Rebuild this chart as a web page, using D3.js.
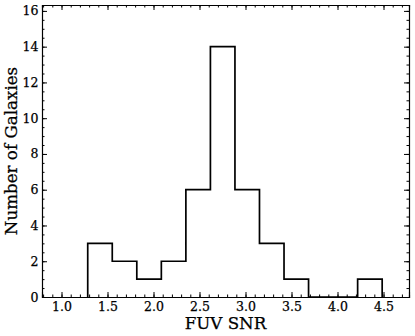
<!DOCTYPE html>
<html><head><meta charset="utf-8">
<script src="https://cdn.jsdelivr.net/npm/d3@7"></script>
<style>body{margin:0;background:#fff}svg{display:block}text{font-family:"DejaVu Serif",serif;fill:#000}</style>
</head><body>
<script>
const binStart = 1.285;
const binWidth = 0.2667;
const counts = [3, 2, 1, 2, 6, 14, 6, 3, 1, 0, 0, 1];
const xTicks = [1.0, 1.5, 2.0, 2.5, 3.0, 3.5, 4.0, 4.5];
const yTicks = [0, 2, 4, 6, 8, 10, 12, 14, 16];
const xLabel = "FUV SNR";
const yLabel = "Number of Galaxies";

const W = 415, H = 336;
const m = {l: 42, r: 6, t: 5, b: 39};
const svg = d3.select("body").append("svg").attr("width", W).attr("height", H);
const x = d3.scaleLinear().domain([0.788, 4.777]).range([m.l, W - m.r]);
const y = d3.scaleLinear().domain([0, 16.33]).range([H - m.b, m.t]);

// histogram step outline
const edges = counts.map((c, i) => binStart + i * binWidth);
const pts = [];
pts.push([binStart, 0]);
counts.forEach((c, i) => {
  pts.push([edges[i], c]);
  pts.push([edges[i] + binWidth, c]);
});
pts.push([binStart + counts.length * binWidth, 0]);
svg.append("path")
  .attr("d", d3.line().x(d => x(d[0])).y(d => y(d[1]))(pts))
  .attr("fill", "none").attr("stroke", "#000").attr("stroke-width", 1.7)
  .attr("stroke-linejoin", "miter");

// axes with inward ticks
const fmt = d3.format(".1f");
const xMinor = d3.range(8, 48).map(v => v / 10);
const yMinor = d3.range(0, 33).map(v => v / 2);
const gx = svg.append("g").attr("transform", `translate(0,${H - m.b})`);
gx.call(d3.axisBottom(x).tickValues(xMinor).tickSize(-2.5).tickFormat(""));
gx.append("g").call(d3.axisBottom(x).tickValues(xTicks).tickSize(-5).tickPadding(5).tickFormat(fmt));
const gt = svg.append("g").attr("transform", `translate(0,${m.t})`);
gt.call(d3.axisTop(x).tickValues(xMinor).tickSize(-2.5).tickFormat(""));
gt.append("g").call(d3.axisTop(x).tickValues(xTicks).tickSize(-5).tickFormat(""));
const gl = svg.append("g").attr("transform", `translate(${m.l},0)`);
gl.call(d3.axisLeft(y).tickValues(yMinor).tickSize(-2.5).tickFormat(""));
gl.append("g").call(d3.axisLeft(y).tickValues(yTicks).tickSize(-5).tickPadding(3.5).tickFormat(d3.format("d")));
const gr = svg.append("g").attr("transform", `translate(${W - m.r},0)`);
gr.call(d3.axisRight(y).tickValues(yMinor).tickSize(-2.5).tickFormat(""));
gr.append("g").call(d3.axisRight(y).tickValues(yTicks).tickSize(-5).tickFormat(""));
svg.selectAll(".domain").attr("stroke", "#000").attr("stroke-width", 1.1);
svg.selectAll(".tick line").attr("stroke", "#000").attr("stroke-width", 1);
svg.selectAll(".tick text").attr("font-size", 12.5).attr("font-family", "DejaVu Serif")
  .attr("stroke", "#000").attr("stroke-width", 0.25);

svg.append("text").attr("x", (m.l + W - m.r) / 2).attr("y", 328.5)
  .attr("text-anchor", "middle").attr("font-size", 16.7)
  .attr("stroke", "#000").attr("stroke-width", 0.25).text(xLabel);
svg.append("text").attr("transform", `translate(16.5,${(m.t + H - m.b) / 2}) rotate(-90)`)
  .attr("text-anchor", "middle").attr("font-size", 16.7)
  .attr("stroke", "#000").attr("stroke-width", 0.25).text(yLabel);
</script>
</body></html>
